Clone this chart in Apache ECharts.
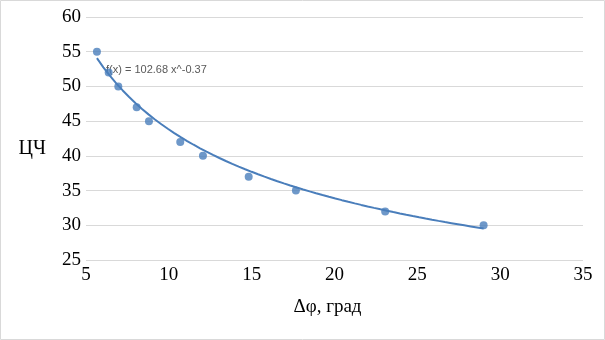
<!DOCTYPE html>
<html><head><meta charset="utf-8">
<script src="https://cdn.jsdelivr.net/npm/echarts@6/dist/echarts.min.js"></script>
<style>html,body{margin:0;padding:0;background:#fff}#c{width:605px;height:340px}</style>
</head><body><div id="c"></div>
<script>
const xValues = [5.66, 6.37, 6.95, 8.06, 8.8, 10.69, 12.06, 14.82, 17.67, 23.06, 29.0];
const yValues = [55, 52, 50, 47, 45, 42, 40, 37, 35, 32, 30];
const trendCoefA = 102.68;
const trendCoefB = -0.37;
const trendLabel = 'f(x) = 102.68 x^-0.37';
const xTitle = 'Δφ, град';
const yTitle = 'ЦЧ';

const pts = xValues.map((x, i) => [x, yValues[i]]);
const xmin = Math.min(...xValues), xmax = Math.max(...xValues);
const trend = [];
const N = 60;
for (let i = 0; i <= N; i++) {
  const x = xmin + (xmax - xmin) * i / N;
  trend.push([x, trendCoefA * Math.pow(x, trendCoefB)]);
}
const serif = '"Liberation Serif", "DejaVu Serif", serif';
const chart = echarts.init(document.getElementById('c'));
chart.setOption({
  animation: false,
  grid: {left: 86, right: 22, top: 17, bottom: 80},
  xAxis: {
    type: 'value', min: 5, max: 35, interval: 5,
    name: xTitle, nameLocation: 'middle', nameGap: 38,
    nameTextStyle: {fontFamily: serif, fontSize: 19, color: '#000', padding: [0, 14, 0, 0]},
    axisLine: {show: false}, axisTick: {show: false},
    axisLabel: {fontFamily: serif, fontSize: 19, color: '#000', margin: 6},
    splitLine: {show: false}
  },
  yAxis: {
    type: 'value', min: 25, max: 60, interval: 5,
    name: yTitle, nameLocation: 'middle', nameGap: 40, nameRotate: 0,
    nameTextStyle: {fontFamily: serif, fontSize: 20, color: '#000', verticalAlign: 'top', padding: [0, 0, 0, 0]},
    axisLine: {show: false}, axisTick: {show: false},
    axisLabel: {fontFamily: serif, fontSize: 19, color: '#000', margin: 5},
    splitLine: {show: true, lineStyle: {color: '#d9d9d9', width: 1}}
  },
  graphic: [
    {type: 'rect', shape: {x: 0.5, y: 0.5, width: 604, height: 339}, style: {fill: 'none', stroke: '#d9d9d9', lineWidth: 1}, silent: true},
    {type: 'text', left: 106, top: 64, style: {text: trendLabel, fontFamily: '"Liberation Sans", Arial, sans-serif', fontSize: 11, fill: '#595959'}}
  ],
  series: [
    {type: 'line', data: trend, showSymbol: false, smooth: false,
     lineStyle: {color: '#4a7ebb', width: 2}, z: 2},
    {type: 'scatter', data: pts, symbol: 'circle', symbolSize: 8,
     itemStyle: {color: '#4a7ebb'}, z: 3}
  ]
});
</script></body></html>
